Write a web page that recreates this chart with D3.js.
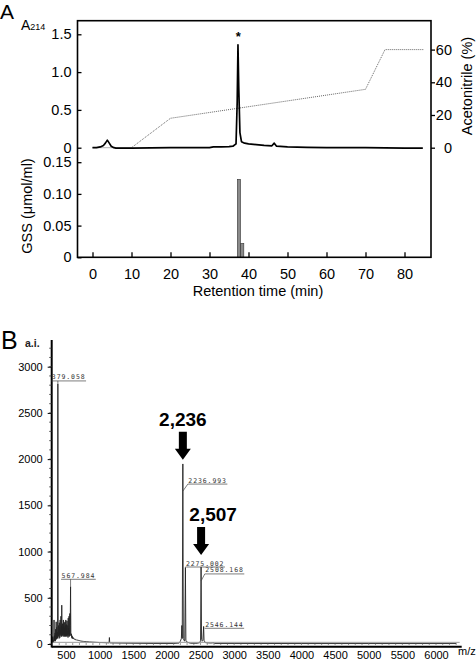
<!DOCTYPE html>
<html><head><meta charset="utf-8">
<script src="https://cdn.jsdelivr.net/npm/d3@7"></script>
<style>
html,body{margin:0;padding:0;background:#fff;}
svg{display:block;font-family:"Liberation Sans",Arial,Helvetica,sans-serif;}
</style></head>
<body>
<svg id="chart" width="476" height="663"></svg>
<script>
// ---------- Panel A data ----------
const chromTime = [0,1,2,2.8,3.3,3.8,4.3,4.8,5.5,6,10,15,20,25,30,31,33,35,36,36.8,37.1,37.3,37.5,37.8,38.2,39,40,42,44,46,46.6,47.2,50,55,60,70,75,80,84.7];
const chromAbs  = [0,0,0.01,0.03,0.06,0.1,0.06,0.02,0,-0.005,-0.005,-0.003,0,0.002,0,0.01,0.012,0.015,0.02,0.05,0.6,1.36,0.8,0.2,0.08,0.06,0.05,0.04,0.03,0.025,0.06,0.02,0.012,0.005,0,0,-0.003,-0.005,-0.005];
const gradTime = [0,10,20,70,75,85];
const gradAcn  = [0,0,18,35.7,60,60];
const gssTime = [37.55,38.4];
const gssConc = [0.123,0.022];
const xTicksA = [0,10,20,30,40,50,60,70,80];
const absTicks = [0,0.5,1.0,1.5];
const absTickLabels = ["0","0.5","1.0","1.5"];
const acnTicks = [0,20,40,60];
const gssTicks = [0,0.05,0.10,0.15];
const gssTickLabels = ["0","0.05","0.10","0.15"];

// ---------- Panel B data ----------
const msMz  = [300,306,309,312,316,320,322,325,330,334,338,342,346,350,354,358,362,366,370,374,379,384,388,392,395,398,401,404,407,410,413,416,419,422,425,428,431,434,437,440,443,446,449,452,455,458,461,464,467,470,473,476,479,482,485,488,491,494,497,500,503,506,509,512,515,518,521,524,527,530,533,536,539,542,545,548,551,554,557,560,563,568,572,576,580,584,588,592,596,600,606,612,618,625,632,640,650,660,675,690,705,720,740,760,780,800,850,900,1000,1100,1140,1145,1150,1300,1500,1800,2100,2180,2200,2215,2222,2228,2237,2244,2255,2265,2275,2282,2300,2350,2450,2490,2500,2508,2515,2525,2535,2546,2552,2570,2650,2700,2705,2710,3000,4000,5000,6300];
const msInt = [15,80,20,40,15,70,260,30,90,40,120,30,160,60,240,50,180,70,130,60,2814,80,200,90,150,60,230,100,180,70,260,110,150,90,300,100,200,80,420,120,180,90,220,100,170,80,260,110,190,90,230,80,170,100,240,90,200,80,260,100,160,90,210,80,250,90,140,100,200,70,280,110,170,90,300,80,150,100,330,90,200,620,120,90,110,70,90,60,80,60,70,55,60,50,55,45,50,40,42,38,36,32,30,28,26,25,22,20,16,14,12,70,12,10,8,6,6,10,30,60,200,60,1948,60,40,30,826,40,20,8,8,15,40,833,50,30,40,190,40,15,10,14,8,6,6,5,5,5];
const peakMz = [379.058,567.984,2236.993,2275.002,2508.168,2546.144];
const peakInt = [2814,620,1948,826,833,190];
const peakLabels = ["379.058","567.984","2236.993","2275.002","2508.168","2546.144"];
const msXTicks = [500,1000,1500,2000,2500,3000,3500,4000,4500,5000,5500,6000];
const msYTicks = [0,500,1000,1500,2000,2500,3000];
const callouts = ["2,236","2,507"];
const calloutMz = [2236.993,2508.168];

const svg = d3.select("#chart");

// ========== PANEL A ==========
const frame = {l:77.5, r:431, t:20.7, b:257.3};
const xA = d3.scaleLinear().domain([0,80]).range([92.5,404.5]);
const yA = d3.scaleLinear().domain([0,1.5]).range([147.7,34.3]);
const yAcn = d3.scaleLinear().domain([0,60]).range([147.7,49.6]);
const yG = d3.scaleLinear().domain([0,0.15]).range([257.3,162.2]);

svg.append("text").attr("x",0).attr("y",19).attr("font-size",21).text("A");
const a214 = svg.append("text").attr("x",21).attr("y",30).attr("font-size",14);
a214.append("tspan").text("A");
a214.append("tspan").attr("font-size",9).attr("dy",-0.5).text("214");

svg.append("defs").append("clipPath").attr("id","clipA").append("rect")
  .attr("x",frame.l).attr("y",frame.t).attr("width",frame.r-frame.l).attr("height",frame.b-frame.t);

const gA = svg.append("g");
gA.append("path")
  .datum(gradTime.map((t,i)=>[t,gradAcn[i]]))
  .attr("fill","none").attr("stroke","#666").attr("stroke-width",1)
  .attr("stroke-dasharray","1,1")
  .attr("d", d3.line().x(d=>xA(d[0])).y(d=>yAcn(d[1])));
gA.append("path")
  .datum(chromTime.map((t,i)=>[t,chromAbs[i]]))
  .attr("clip-path","url(#clipA)")
  .attr("fill","none").attr("stroke","#000").attr("stroke-width",1.7).attr("stroke-linejoin","round")
  .attr("d", d3.line().x(d=>xA(d[0])).y(d=>yA(d[1])));
gA.append("text").attr("x",xA(37.4)).attr("y",yA(1.36)-4).attr("text-anchor","middle")
  .attr("font-size",13).attr("font-weight","bold").text("*");

const barW = 0.8;
gA.selectAll("rect.bar").data(gssTime).join("rect").attr("class","bar")
  .attr("x",(t)=>xA(t-barW/2)).attr("width",xA(barW)-xA(0))
  .attr("y",(t,i)=>yG(gssConc[i])).attr("height",(t,i)=>yG(0)-yG(gssConc[i]))
  .attr("fill","#8a8a8a").attr("stroke","#333").attr("stroke-width",0.6);

gA.append("rect").attr("x",frame.l).attr("y",frame.t).attr("width",frame.r-frame.l).attr("height",frame.b-frame.t)
  .attr("fill","none").attr("stroke","#000").attr("stroke-width",1.6);

function styleAxis(g, fs){
  g.select(".domain").remove();
  g.selectAll(".tick line").attr("stroke","#000").attr("stroke-width",1.3);
  g.selectAll(".tick text").attr("font-size",fs).attr("fill","#000")
    .attr("font-family","'Liberation Sans',Arial,Helvetica,sans-serif");
}
const axAbs = gA.append("g").attr("transform",`translate(${frame.l},0)`)
  .call(d3.axisLeft(yA).tickValues(absTicks).tickFormat((d,i)=>absTickLabels[i]).tickSizeInner(-4).tickSizeOuter(0).tickPadding(6));
styleAxis(axAbs,14.5);
const axAcn = gA.append("g").attr("transform",`translate(${frame.r},0)`)
  .call(d3.axisRight(yAcn).tickValues(acnTicks).tickSizeInner(4).tickSizeOuter(0).tickPadding(4));
styleAxis(axAcn,14.5);
axAcn.selectAll(".tick text").attr("text-anchor","end").attr("x",21);
const axG = gA.append("g").attr("transform",`translate(${frame.l},0)`)
  .call(d3.axisLeft(yG).tickValues(gssTicks).tickFormat((d,i)=>gssTickLabels[i]).tickSizeInner(-4).tickSizeOuter(0).tickPadding(6));
styleAxis(axG,14.5);
const axX = gA.append("g").attr("transform",`translate(0,${frame.b})`)
  .call(d3.axisBottom(xA).tickValues(xTicksA).tickSizeInner(-5).tickSizeOuter(0).tickPadding(11));
styleAxis(axX,14.5);

svg.append("text").attr("x",258).attr("y",296).attr("text-anchor","middle").attr("font-size",14.5).text("Retention time (min)");
svg.append("text").attr("transform","translate(32,206) rotate(-90)").attr("text-anchor","middle").attr("font-size",14.5).text("GSS (μmol/ml)");
svg.append("text").attr("transform","translate(472,86) rotate(-90)").attr("text-anchor","middle").attr("font-size",14.5).text("Acetonitrile (%)");

// ========== PANEL B ==========
const xB = d3.scaleLinear().domain([500,6000]).range([66,436]);
const yB = d3.scaleLinear().domain([0,3000]).range([644,366.7]);
const axLeftX = 51.7, axRightX = 461.7;

svg.append("text").attr("x",1).attr("y",349).attr("font-size",25).text("B");
svg.append("text").attr("x",25).attr("y",347).attr("font-size",10.5).attr("font-weight","bold").attr("fill","#222").text("a.i.");

const gB = svg.append("g");
gB.append("path")
  .datum(msMz.map((m,i)=>[m,msInt[i]]))
  .attr("fill","none").attr("stroke","#222").attr("stroke-width",0.9).attr("stroke-linejoin","miter")
  .attr("d", d3.line().x(d=>xB(d[0])).y(d=>yB(d[1])));
gB.append("line").attr("x1",axLeftX).attr("x2",axRightX-2).attr("y1",yB(18)).attr("y2",yB(18))
  .attr("stroke","#999").attr("stroke-width",1);

gB.append("line").attr("x1",axLeftX).attr("x2",axLeftX).attr("y1",340).attr("y2",647.5).attr("stroke","#000").attr("stroke-width",2);
gB.append("line").attr("x1",axLeftX).attr("x2",axRightX).attr("y1",646.7).attr("y2",646.7).attr("stroke","#000").attr("stroke-width",2);

const axBY = gB.append("g").attr("transform",`translate(${axLeftX},0)`)
  .call(d3.axisLeft(yB).tickValues(msYTicks).tickFormat(d3.format("d")).tickSizeInner(4).tickSizeOuter(0).tickPadding(5));
styleAxis(axBY,11);
axBY.selectAll(".tick line").attr("stroke-width",1);
gB.append("g").selectAll("line").data(d3.range(0,3300,100)).join("line")
  .attr("x1",axLeftX-2.5).attr("x2",axLeftX).attr("y1",d=>yB(d)).attr("y2",d=>yB(d)).attr("stroke","#333").attr("stroke-width",0.8);

const axBX = gB.append("g").attr("transform",`translate(0,647.5)`)
  .call(d3.axisBottom(xB).tickValues(msXTicks).tickFormat(d3.format("d")).tickSizeInner(0).tickSizeOuter(0).tickPadding(4));
styleAxis(axBX,11);
gB.append("g").selectAll("line").data(d3.range(300,6400,100)).join("line")
  .attr("x1",d=>xB(d)).attr("x2",d=>xB(d)).attr("y1",645).attr("y2",643).attr("stroke","#555").attr("stroke-width",0.6);
svg.append("text").attr("x",458).attr("y",655).attr("font-size",11).text("m/z");

const labOff = [
  {dx:-6.5, u:2846, c:"v"},
  {dx:-9.5, u:700, c:"v"},
  {dx:5, u:1730, c:"d"},
  {dx:0, u:833, c:"v"},
  {dx:3.7, u:758, c:"d"},
  {dx:1, u:170, c:"v"}
];
const gl = gB.append("g");
peakMz.forEach((m,i)=>{
  const o = labOff[i];
  const px = xB(m), uy = yB(o.u), lx = px + o.dx;
  const t = gl.append("text").attr("x",lx+0.5).attr("y",uy-1.5).attr("font-size",6.5)
    .attr("font-family","'DejaVu Sans Mono',monospace").attr("letter-spacing",0.9).attr("fill","#333").text(peakLabels[i]);
  const w = t.node().getComputedTextLength();
  gl.append("line").attr("x1",lx).attr("x2",lx+w+1).attr("y1",uy).attr("y2",uy).attr("stroke","#444").attr("stroke-width",0.7);
  if(o.c==="v"){
    gl.append("line").attr("x1",px).attr("x2",px).attr("y1",uy).attr("y2",Math.max(uy,yB(peakInt[i]))).attr("stroke","#444").attr("stroke-width",0.7);
  } else {
    gl.append("line").attr("x1",lx).attr("x2",px).attr("y1",uy).attr("y2",uy+7).attr("stroke","#444").attr("stroke-width",0.7);
  }
});

const calloutTextInt = [2360, 1330];
const calloutDx = [0, 12];
callouts.forEach((c,i)=>{
  const px = xB(calloutMz[i]);
  const ty = yB(calloutTextInt[i]);
  gB.append("text").attr("x",px+calloutDx[i]).attr("y",ty).attr("text-anchor","middle")
    .attr("font-size",19).attr("font-weight","bold").text(c);
  const top = ty+6, tip = top+28;
  const p = d3.path();
  p.moveTo(px-4,top); p.lineTo(px+4,top); p.lineTo(px+4,tip-11); p.lineTo(px+8,tip-11);
  p.lineTo(px,tip); p.lineTo(px-8,tip-11); p.lineTo(px-4,tip-11); p.closePath();
  gB.append("path").attr("d",p.toString()).attr("fill","#000");
});
</script>
</body></html>
